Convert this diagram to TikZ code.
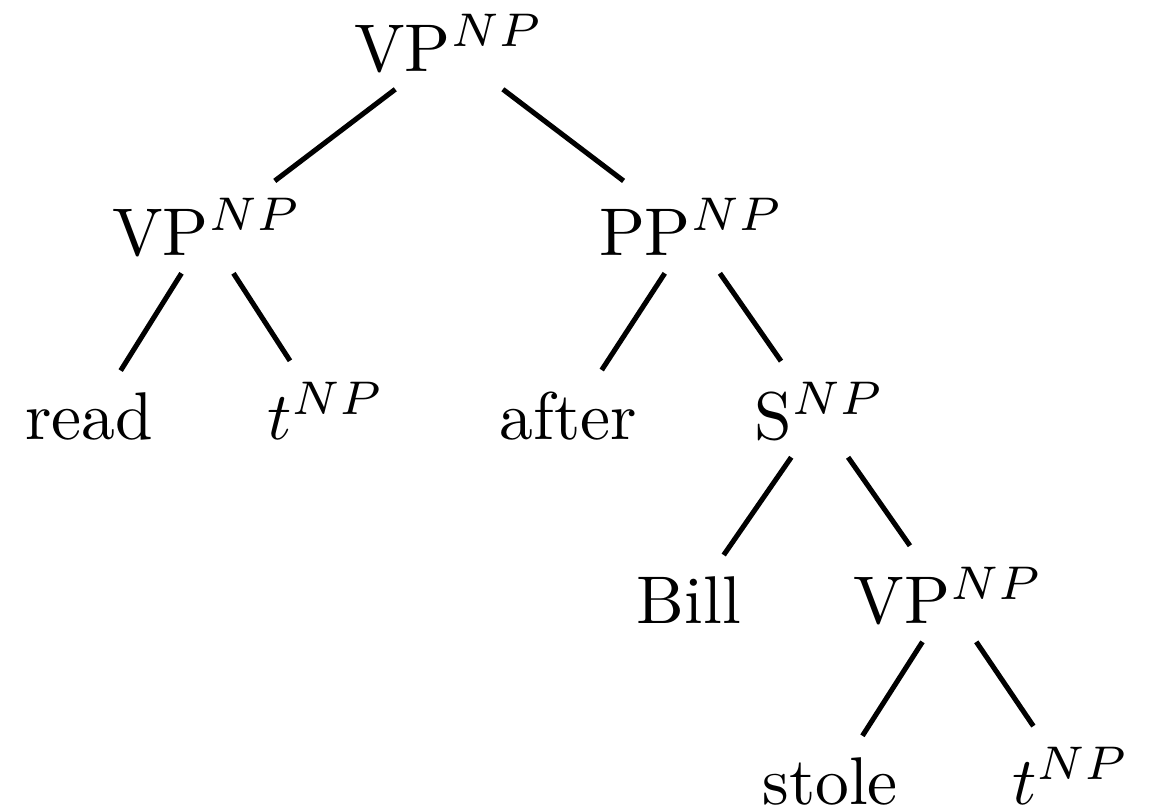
\documentclass[tikz,border=0pt]{standalone}
\usepackage{amsmath}
\newcommand{\gapped}[1]{#1\(^{NP}\)}

\begin{document}
\begin{tikzpicture}[cat/.style={anchor=base,text depth=1.7pt,inner xsep=2pt,inner ysep=0.8pt},
                    branch/.style={line width=0.75pt,shorten >=2.6pt}]
            \useasboundingbox (0,0) rectangle (5.993,4.223);
            \node[cat] (vp) at (2.338,3.853) {\gapped{VP}};
            \node[cat] (vpl) at (1.078,2.895) {\gapped{VP}};
            \node[cat] (pp) at (3.600,2.895) {\gapped{PP}};
            \node[cat] (read) at (0.463,1.937) {read};
            \node[cat] (tl) at (1.697,1.937) {\gapped{\(t\)}};
            \node[cat] (after) at (2.960,1.937) {after};
            \node[cat] (s) at (4.267,1.937) {\gapped{S}};
            \node[cat] (bill) at (3.587,0.979) {Bill};
            \node[cat] (vpr) at (4.939,0.976) {\gapped{VP}};
            \node[cat] (stole) at (4.322,0.036) {stole};
            \node[cat] (tr) at (5.576,0.036) {\gapped{\(t\)}};

            \draw[branch] (vp)--(vpl);
            \draw[branch] (vp)--(pp);
            \draw[branch] (vpl)--(read);
            \draw[branch] (vpl)--(tl);
            \draw[branch] (pp)--(after);
            \draw[branch] (pp)--(s);
            \draw[branch] (s)--(bill);
            \draw[branch] (s)--(vpr);
            \draw[branch] (vpr)--(stole);
            \draw[branch] (vpr)--(tr);
        \end{tikzpicture}
\end{document}
